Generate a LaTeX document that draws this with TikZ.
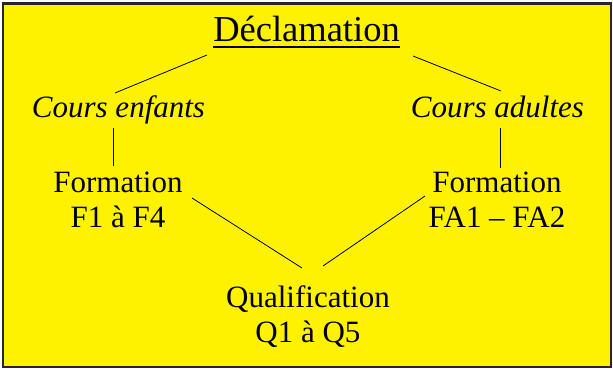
\documentclass[tikz,border=0pt]{standalone}
\usepackage{fontspec}
\setmainfont{Liberation Serif}
\begin{document}
\begin{tikzpicture}[x=1pt, y=-1pt]
    % Define styles
    \tikzset{
        titre/.style={inner sep=0pt, anchor=base, font=\fontsize{36.5}{40}\selectfont},
        cours/.style={inner sep=0pt, anchor=base, font=\fontsize{31}{36}\selectfont\itshape},
        niveau/.style={inner sep=0pt, anchor=base, align=center, font=\fontsize{31}{35.5}\selectfont},
        lien/.style={line width=0.8pt}
    }
    
    % Background
    \useasboundingbox (0,0) rectangle (613,369);
    \draw[line width=2.5pt, draw=black!85, fill=yellow] (3,3.5) rectangle (611,367);
    
    % Title
    \node[titre] (decl) at (306.5,42) {Déclamation};
    \draw[line width=2pt] ([yshift=-5pt]decl.base west) -- ([yshift=-5pt]decl.base east);
    
    % Courses
    \node[cours] (enf) at (118.5,117) {Cours enfants};
    \node[cours] (adu) at (497.5,117) {Cours adultes};
    
    % Formations (base = last line)
    \node[niveau] (fenf) at (118,227.5) {Formation\\F1 à F4};
    \node[niveau] (fadu) at (497,227.5) {Formation\\FA1 – FA2};
    
    % Qualification
    \node[niveau] (qual) at (308,342.5) {Qualification\\Q1 à Q5};
    
    % Lines
    \draw[lien] ([xshift=-99.5pt,yshift=-13pt]decl.base) -- ([xshift=-3.5pt,yshift=24pt]enf.base);
    \draw[lien] ([xshift=106.5pt,yshift=-14pt]decl.base) -- ([xshift=3.5pt,yshift=26pt]adu.base);
    \draw[lien] ([xshift=-5.5pt,yshift=-11pt]enf.base) -- ([xshift=-5pt,yshift=61.5pt]fenf.base);
    \draw[lien] ([xshift=2.5pt,yshift=-11pt]adu.base) -- ([xshift=3pt,yshift=59.5pt]fadu.base);
    \draw[lien] ([xshift=74pt,yshift=29.5pt]fenf.base) -- ([xshift=-6pt,yshift=74.5pt]qual.base);
    \draw[lien] ([xshift=-72pt,yshift=31.5pt]fadu.base) -- ([xshift=15pt,yshift=76.5pt]qual.base);
    
\end{tikzpicture}
\end{document}
